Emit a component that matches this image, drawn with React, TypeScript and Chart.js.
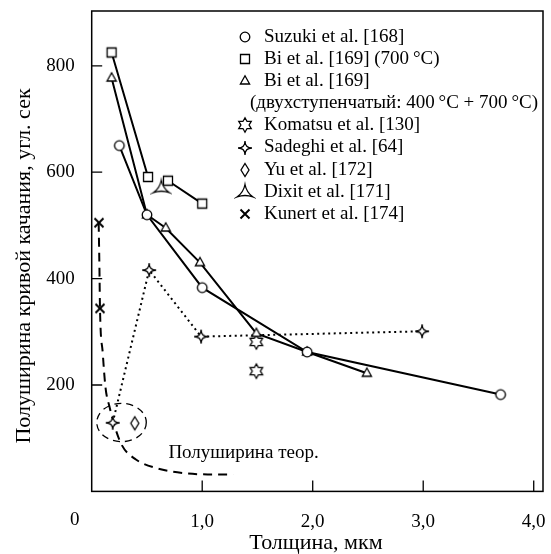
import React, { useEffect, useRef } from 'react';
import { Chart, registerables } from 'chart.js';
Chart.register(...registerables);

// ---------------- data ----------------
const SUZUKI_X = [0.25, 0.5, 1.0, 1.95, 3.7];
const SUZUKI_Y = [650, 520, 383, 262, 182];
const BI700_X = [0.18, 0.51, 0.6, 0.69, 1.0];
const BI700_Y: (number | null)[] = [825, 591, null, 584, 541];
const BI2_X = [0.18, 0.5, 0.67, 0.98, 1.49, 1.95, 2.49];
const BI2_Y = [777, 520, 495, 430, 297, 262, 222];
const KOMATSU_X = [1.49, 1.49];
const KOMATSU_Y = [281, 226];
const SADEGHI_X = [0.19, 0.52, 0.99, 2.99];
const SADEGHI_Y = [129, 416, 291, 301];
const YU_X = [0.39];
const YU_Y = [128];
const DIXIT_X = [0.63];
const DIXIT_Y = [571];
const KUNERT_X = [0.066, 0.075];
const KUNERT_Y = [505, 344];
const THEORY_X = [0.063, 0.07, 0.075, 0.1, 0.125, 0.16, 0.2, 0.27, 0.4, 0.6, 0.85, 1.05, 1.28];
const THEORY_Y = [505, 420, 344, 260, 195, 160, 128, 88, 60, 43, 34, 32, 32];

const X_TICKS = [0, 1, 2, 3, 4];
const Y_TICKS = [200, 400, 600, 800];

const LABELS = [
  'Suzuki et al. [168]',
  'Bi et al. [169] (700\u2009°C)',
  'Bi et al. [169]',
  'Komatsu et al. [130]',
  'Sadeghi et al. [64]',
  'Yu et al. [172]',
  'Dixit et al. [171]',
  'Kunert et al. [174]',
];
const BI2_SUBLABEL = '(двухступенчатый: 400\u2009°C + 700\u2009°C)';
const X_TITLE = 'Толщина, мкм';
const Y_TITLE = 'Полуширина кривой качания, угл. сек';
const THEORY_NOTE = 'Полуширина теор.';
const NOTE_AT = { x: 0.694, y: 72 };
const CIRCLE_AT = { x: 0.27, y: 129.5, rx: 0.224, ry: 36 };

const FONT = "'Liberation Serif', 'Times New Roman', serif";

const pts = (xs: number[], ys: (number | null)[]) => xs.map((x, i) => ({ x, y: ys[i] }));

type Ctx = CanvasRenderingContext2D;
function makeMarker(half: number, draw: (c: Ctx) => void, lw = 1.3) {
  const size = Math.ceil(half * 2 + 4);
  const cv = document.createElement('canvas');
  cv.width = size;
  cv.height = size;
  const c = cv.getContext('2d')!;
  c.translate(size / 2, size / 2);
  c.fillStyle = '#fff';
  c.strokeStyle = '#000';
  c.lineWidth = lw;
  c.lineJoin = 'miter';
  draw(c);
  return cv;
}

function buildMarkers() {
  const circle = makeMarker(6, (c) => {
    c.beginPath();
    c.arc(0, 0, 4.8, 0, Math.PI * 2);
    c.fill();
    c.stroke();
  });
  const square = makeMarker(6, (c) => {
    c.beginPath();
    c.rect(-4.5, -4.5, 9, 9);
    c.fill();
    c.stroke();
  });
  const triangle = makeMarker(6, (c) => {
    c.beginPath();
    c.moveTo(0, -5.2);
    c.lineTo(4.6, 3);
    c.lineTo(-4.6, 3);
    c.closePath();
    c.fill();
    c.stroke();
  });
  const hexagram = makeMarker(8, (c) => {
    c.beginPath();
    for (let i = 0; i < 12; i++) {
      const a = -Math.PI / 2 + (i * Math.PI) / 6;
      const r = i % 2 === 0 ? 7.2 : 4.1;
      const px = Math.cos(a) * r;
      const py = Math.sin(a) * r;
      if (i === 0) c.moveTo(px, py);
      else c.lineTo(px, py);
    }
    c.closePath();
    c.fill();
    c.stroke();
  });
  const star4 = makeMarker(8, (c) => {
    c.beginPath();
    for (let i = 0; i <= 4; i++) {
      const a = -Math.PI / 2 + (i * Math.PI) / 2;
      const px = Math.cos(a) * 7;
      const py = Math.sin(a) * 7;
      if (i === 0) c.moveTo(px, py);
      else c.quadraticCurveTo(0, 0, px, py);
    }
    c.closePath();
    c.fill();
    c.stroke();
  });
  const diamond = makeMarker(8, (c) => {
    c.beginPath();
    c.moveTo(0, -6.5);
    c.lineTo(4, 0);
    c.lineTo(0, 6.5);
    c.lineTo(-4, 0);
    c.closePath();
    c.fill();
    c.stroke();
  });
  const dixit = makeMarker(9, (c) => {
    c.beginPath();
    c.moveTo(0, -7.5);
    c.quadraticCurveTo(1.5, 0.5, 8, 5);
    c.quadraticCurveTo(0, 2, -8, 5);
    c.quadraticCurveTo(-1.5, 0.5, 0, -7.5);
    c.closePath();
    c.fill();
    c.stroke();
  });
  const cross = makeMarker(6, (c) => {
    c.beginPath();
    c.moveTo(-4.5, -4.5);
    c.lineTo(4.5, 4.5);
    c.moveTo(4.5, -4.5);
    c.lineTo(-4.5, 4.5);
    c.stroke();
  }, 2);
  return { circle, square, triangle, hexagram, star4, diamond, dixit, cross };
}

export default function App() {
  const ref = useRef<HTMLCanvasElement | null>(null);

  useEffect(() => {
    if (!ref.current) return;
    const m = buildMarkers();
    const legendMarkers = [m.circle, m.square, m.triangle, m.hexagram, m.star4, m.diamond, m.dixit, m.cross];

    const decor = {
      id: 'decor',
      beforeDatasetsDraw(chart: any) {
        const { ctx, scales } = chart;
        const xs = scales.x;
        const ys = scales.y;
        const cx = xs.getPixelForValue(CIRCLE_AT.x);
        const cy = ys.getPixelForValue(CIRCLE_AT.y);
        const rx = xs.getPixelForValue(CIRCLE_AT.x + CIRCLE_AT.rx) - cx;
        const ry = cy - ys.getPixelForValue(CIRCLE_AT.y + CIRCLE_AT.ry);
        ctx.save();
        ctx.strokeStyle = '#000';
        ctx.lineWidth = 1.3;
        ctx.setLineDash([7, 5]);
        ctx.beginPath();
        ctx.ellipse(cx, cy, rx, ry, 0, 0, Math.PI * 2);
        ctx.stroke();
        ctx.restore();
      },
      afterDraw(chart: any) {
        const { ctx, chartArea: a, scales } = chart;
        const xs = scales.x;
        const ys = scales.y;
        ctx.save();
        ctx.strokeStyle = '#000';
        ctx.fillStyle = '#000';
        // frame
        ctx.lineWidth = 1.5;
        ctx.strokeRect(a.left, a.top, a.right - a.left, a.bottom - a.top);
        // inward ticks
        ctx.lineWidth = 1.3;
        ctx.beginPath();
        X_TICKS.forEach((v) => {
          if (v === 0) return;
          const px = xs.getPixelForValue(v);
          ctx.moveTo(px, a.bottom);
          ctx.lineTo(px, a.bottom - 11);
        });
        Y_TICKS.forEach((v) => {
          const py = ys.getPixelForValue(v);
          ctx.moveTo(a.left, py);
          ctx.lineTo(a.left + 10.5, py);
        });
        ctx.stroke();
        // corner zero
        ctx.font = `19px ${FONT}`;
        ctx.textAlign = 'center';
        ctx.textBaseline = 'middle';
        ctx.fillText('0', a.left - 17, 520);
        // axis titles
        ctx.font = `22px ${FONT}`;
        ctx.fillText(X_TITLE, 316, 543);
        ctx.save();
        ctx.translate(24, 266);
        ctx.rotate(-Math.PI / 2);
        ctx.fillText(Y_TITLE, 0, 0);
        ctx.restore();
        // note
        ctx.font = `19px ${FONT}`;
        ctx.textAlign = 'left';
        ctx.fillText(THEORY_NOTE, xs.getPixelForValue(NOTE_AT.x), ys.getPixelForValue(NOTE_AT.y));
        // legend
        ctx.font = `19px ${FONT}`;
        const mx = 245;
        const tx = 264;
        const y0 = 37;
        const dy = 22.1;
        let row = 0;
        LABELS.forEach((lab, i) => {
          const y = y0 + row * dy;
          const mk = legendMarkers[i];
          ctx.drawImage(mk, Math.round(mx - mk.width / 2), Math.round(y - mk.height / 2));
          ctx.fillText(lab, tx, y);
          row++;
          if (i === 2) {
            ctx.fillText(BI2_SUBLABEL, 250, y0 + row * dy);
            row++;
          }
        });
        ctx.restore();
      },
    };

    const common = { borderColor: '#000', backgroundColor: '#fff', pointRadius: 6, pointHoverRadius: 6 };

    const chart = new Chart(ref.current, {
      type: 'scatter',
      data: {
        datasets: [
          { ...common, label: LABELS[0], data: pts(SUZUKI_X, SUZUKI_Y), showLine: true, borderWidth: 2, pointStyle: m.circle },
          { ...common, label: LABELS[1], data: pts(BI700_X, BI700_Y), showLine: true, spanGaps: false, borderWidth: 2, pointStyle: m.square },
          { ...common, label: LABELS[2], data: pts(BI2_X, BI2_Y), showLine: true, borderWidth: 2, pointStyle: m.triangle },
          { ...common, label: LABELS[3], data: pts(KOMATSU_X, KOMATSU_Y), showLine: false, pointStyle: m.hexagram },
          { ...common, label: LABELS[4], data: pts(SADEGHI_X, SADEGHI_Y), showLine: true, borderWidth: 2, borderDash: [2, 3.5], pointStyle: m.star4 },
          { ...common, label: LABELS[5], data: pts(YU_X, YU_Y), showLine: false, pointStyle: m.diamond },
          { ...common, label: LABELS[6], data: pts(DIXIT_X, DIXIT_Y), showLine: false, pointStyle: m.dixit },
          { ...common, label: LABELS[7], data: pts(KUNERT_X, KUNERT_Y), showLine: false, pointStyle: m.cross },
          {
            label: 'theory',
            data: pts(THEORY_X, THEORY_Y),
            showLine: true,
            borderColor: '#000',
            borderWidth: 2,
            borderDash: [9, 6],
            pointRadius: 0,
            cubicInterpolationMode: 'monotone',
          },
        ] as any,
      },
      options: {
        responsive: false,
        animation: false,
        devicePixelRatio: 1,
        layout: { padding: { left: 0, top: 11, right: 2.7, bottom: 0 } },
        plugins: { legend: { display: false }, tooltip: { enabled: false } },
        scales: {
          x: {
            type: 'linear',
            min: 0,
            max: 4.084,
            afterBuildTicks: (s: any) => {
              s.ticks = X_TICKS.map((v) => ({ value: v }));
            },
            afterFit: (s: any) => {
              s.height = 62.6;
              s.paddingLeft = 0;
              s.paddingRight = 0;
            },
            grid: { display: false, drawTicks: false },
            border: { display: false },
            ticks: {
              color: '#000',
              padding: 19,
              autoSkip: false,
              maxRotation: 0,
              font: { family: FONT, size: 19 },
              callback: (v: any) => (Number(v) === 0 ? '' : Number(v).toFixed(1).replace('.', ',')),
            },
          },
          y: {
            type: 'linear',
            min: 0,
            max: 903,
            afterBuildTicks: (s: any) => {
              s.ticks = Y_TICKS.map((v) => ({ value: v }));
            },
            afterFit: (s: any) => {
              s.width = 91.7;
              s.paddingTop = 0;
              s.paddingBottom = 0;
            },
            grid: { display: false, drawTicks: false },
            border: { display: false },
            ticks: {
              color: '#000',
              padding: 17,
              font: { family: FONT, size: 19 },
              callback: (v: any) => String(v),
            },
          },
        },
      } as any,
      plugins: [decor],
    });
    return () => chart.destroy();
  }, []);

  return (
    <div style={{ position: 'fixed', left: 0, top: 0, width: 551, height: 554, background: '#fff' }}>
      <canvas ref={ref} width={551} height={554} style={{ display: 'block' }} />
    </div>
  );
}
